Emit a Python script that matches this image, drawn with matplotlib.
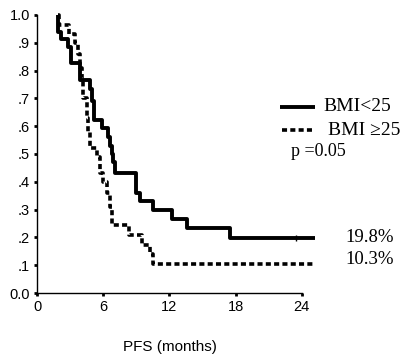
import matplotlib
matplotlib.use("Agg")
import matplotlib.pyplot as plt
from matplotlib.lines import Line2D

# Data
t_low = [1.9, 1.9, 2.2, 2.8, 3.1, 3.9, 4.8, 5.0, 5.2, 5.85, 6.4, 6.6, 6.8, 6.9, 7.05,
         9.0, 9.3, 10.5, 12.2, 13.6, 17.5, 25.2]
s_low = [1.0, 0.94, 0.915, 0.885, 0.826, 0.766, 0.735, 0.69, 0.622, 0.593, 0.56, 0.53,
         0.50, 0.47, 0.43, 0.36, 0.33, 0.298, 0.266, 0.234, 0.198, 0.198]
censor_low_t = [23.5]
censor_low_s = [0.198]

t_high = [1.9, 2.0, 2.9, 3.4, 3.7, 3.9, 4.1, 4.2, 4.5, 4.6, 4.8, 5.4, 5.7, 6.0, 6.3,
          6.6, 6.8, 8.3, 9.5, 10.2, 10.5, 25.2]
s_high = [1.0, 0.964, 0.93, 0.90, 0.86, 0.81, 0.77, 0.70, 0.63, 0.58, 0.52, 0.49, 0.43,
          0.40, 0.36, 0.31, 0.245, 0.21, 0.173, 0.14, 0.103, 0.103]

x_ticks = [0, 6, 12, 18, 24]
y_ticks = [0.0, 0.1, 0.2, 0.3, 0.4, 0.5, 0.6, 0.7, 0.8, 0.9, 1.0]
y_labels = ["0.0", ".1", ".2", ".3", ".4", ".5", ".6", ".7", ".8", ".9", "1.0"]
legend_labels = ["BMI<25", "BMI \u226525"]
p_text = "p =0.05"
end_labels = ["19.8%", "10.3%"]
x_label = "PFS (months)"

fig = plt.figure(figsize=(4.0, 3.63), dpi=100)
ax = fig.add_axes([0.0925, 0.1928, 0.698, 0.766])

ax.step(t_low, s_low, where="post", color="black", lw=2.8, solid_capstyle="butt",
        clip_on=False)
ax.step(t_high, s_high, where="post", color="black", lw=2.6, linestyle=(0, (1.4, 0.9)),
        dash_capstyle="butt", clip_on=False)
ax.plot(censor_low_t, censor_low_s, marker="|", color="black", ms=5, mew=1.0,
        linestyle="none", clip_on=False)

ax.set_xlim(0, 25.3)
ax.set_ylim(0, 1.0)
ax.spines["top"].set_visible(False)
ax.spines["right"].set_visible(False)
ax.spines["bottom"].set_bounds(0, 24)
for s in ["left", "bottom"]:
    ax.spines[s].set_linewidth(1.0)

ax.set_xticks(x_ticks)
ax.set_xticklabels([str(v) for v in x_ticks])
ax.set_yticks(y_ticks)
ax.set_yticklabels(y_labels)
ax.tick_params(axis="both", direction="out", length=2, width=2, labelsize=10.5, pad=3)
for lbl in ax.get_xticklabels() + ax.get_yticklabels():
    lbl.set_fontfamily("Liberation Sans")

fig.text(169.5 / 400, 1 - 347 / 363, x_label, ha="center", va="center",
         fontsize=11, family="Liberation Sans")

# legend drawn manually
fig.add_artist(Line2D([280 / 400, 315 / 400], [1 - 106.7 / 363] * 2, color="black",
                      lw=2.8, transform=fig.transFigure, solid_capstyle="butt"))
fig.add_artist(Line2D([282 / 400, 313 / 400], [1 - 130 / 363] * 2, color="black",
                      lw=2.6, linestyle=(0, (1.4, 0.9)), dash_capstyle="butt",
                      transform=fig.transFigure))
fig.text(323 / 400, 1 - 106.7 / 363, legend_labels[0], ha="left", va="center",
         fontsize=14, family="Liberation Serif")
fig.text(328 / 400, 1 - 130 / 363, legend_labels[1], ha="left", va="center",
         fontsize=14, family="Liberation Serif")
fig.text(291 / 400, 1 - 152 / 363, p_text, ha="left", va="center",
         fontsize=13, family="Liberation Serif")
fig.text(345 / 400, 1 - 238 / 363, end_labels[0], ha="left", va="center",
         fontsize=13.5, family="Liberation Serif")
fig.text(345 / 400, 1 - 259 / 363, end_labels[1], ha="left", va="center",
         fontsize=13.5, family="Liberation Serif")

fig.savefig("out.png", dpi=100)
